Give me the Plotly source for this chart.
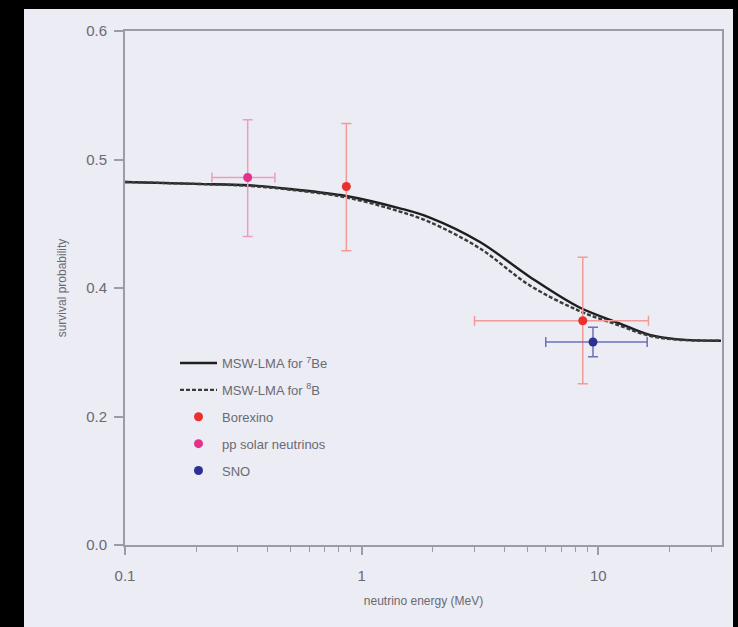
import plotly.graph_objects as go

# ---------------- data ----------------
curve_energy = [0.1, 0.2, 0.33, 0.5, 0.86, 1.45, 1.93, 3.15, 5.14, 8.3, 12.2, 16.5, 21.8, 33]
p_be7 = [0.4825, 0.481, 0.480, 0.477, 0.4716, 0.462, 0.455, 0.436, 0.4086, 0.370, 0.3455, 0.327, 0.320, 0.318]
p_b8 = [0.4825, 0.481, 0.4795, 0.4765, 0.4705, 0.4595, 0.4515, 0.431, 0.402, 0.3645, 0.342, 0.3255, 0.3195, 0.318]

borexino_E = [0.862, 8.6]
borexino_P = [0.479, 0.349]
borexino_up = [0.528, 0.424]
borexino_lo = [0.429, 0.251]
borexino_Elo = [0.862, 3.0]
borexino_Ehi = [0.862, 16.3]

pp_E = [0.33]
pp_P = [0.486]
pp_up = [0.531]
pp_lo = [0.440]
pp_Elo = [0.233]
pp_Ehi = [0.43]

sno_E = [9.5]
sno_P = [0.316]
sno_up = [0.339]
sno_lo = [0.293]
sno_Elo = [6.0]
sno_Ehi = [16.1]

y_tick_vals = [0.0, 0.2, 0.4, 0.5, 0.6]
y_tick_text = ["0.0", "0.2", "0.4", "0.5", "0.6"]
x_tick_vals = [0.1, 1, 10]
x_tick_text = ["0.1", "1", "10"]
x_minor_vals = [0.2, 0.3, 0.4, 0.5, 0.6, 0.7, 0.8, 0.9, 2, 3, 4, 5, 6, 7, 8, 9, 20, 30]


# the original y axis is piecewise: 0-0.4 compressed (0.2 per segment), 0.4-0.6 at 0.1 per segment
def ymap(v):
    if v <= 0.4:
        return v / 0.2
    return 2 + (v - 0.4) / 0.1


def ymapl(vals):
    return [ymap(v) for v in vals]


def yerr(center, up, lo):
    return ([ymap(u) - ymap(c) for c, u in zip(center, up)],
            [ymap(c) - ymap(l) for c, l in zip(center, lo)])


def xerr(E, Elo, Ehi):
    return ([h - e for e, h in zip(E, Ehi)], [e - l for e, l in zip(E, Elo)])


FONT = "Liberation Sans Narrow, Arial Narrow, Liberation Sans, sans-serif"
TXT = "#6a6a72"
AX = "#9c9ca6"
BG = "#ececf4"

fig = go.Figure()

fig.add_trace(go.Scatter(
    x=curve_energy, y=ymapl(p_be7), mode="lines", line=dict(color="#1e1e1e", width=2.4, shape="spline"),
    name="MSW-LMA for <sup>7</sup>Be", legendgroup="a"))
fig.add_trace(go.Scatter(
    x=curve_energy, y=ymapl(p_b8), mode="lines", line=dict(color="#3a3a3a", width=2.4, dash="4px,2px", shape="spline"),
    name="MSW-LMA for <sup>8</sup>B", legendgroup="b"))

for name, E, P, up, lo, Elo, Ehi, mc, ec, grp in [
    ("Borexino", borexino_E, borexino_P, borexino_up, borexino_lo, borexino_Elo, borexino_Ehi, "#e8302c", "#f29a98", "c"),
    ("pp solar neutrinos", pp_E, pp_P, pp_up, pp_lo, pp_Elo, pp_Ehi, "#e2338c", "#ee9cc4", "d"),
    ("SNO", sno_E, sno_P, sno_up, sno_lo, sno_Elo, sno_Ehi, "#2b3192", "#6c72b4", "e"),
]:
    ey_up, ey_lo = yerr(P, up, lo)
    ex_up, ex_lo = xerr(E, Elo, Ehi)
    fig.add_trace(go.Scatter(
        x=E, y=ymapl(P), mode="markers", name=name, legendgroup=grp,
        marker=dict(color=mc, size=9),
        error_y=dict(type="data", symmetric=False, array=ey_up, arrayminus=ey_lo,
                     color=ec, thickness=1.5, width=5),
        error_x=dict(type="data", symmetric=False, array=ex_up, arrayminus=ex_lo,
                     color=ec, thickness=1.5, width=5),
    ))

# lavender panel inside the black frame
fig.add_shape(type="rect", xref="paper", yref="paper",
              x0=(24 - 125) / 597, x1=(733 - 125) / 597,
              y0=(545 - 640) / 514, y1=(545 - 9) / 514,
              fillcolor=BG, line=dict(width=0), layer="below")

fig.update_layout(
    width=738, height=627,
    margin=dict(l=125, r=16, t=31, b=82),
    paper_bgcolor="black", plot_bgcolor=BG,
    font=dict(family=FONT, color=TXT, size=13),
    showlegend=True,
    legend=dict(x=(175 - 125) / 597, y=(545 - 348) / 514, xanchor="left", yanchor="top",
                bgcolor="rgba(0,0,0,0)", font=dict(family=FONT, size=13, color=TXT),
                tracegroupgap=7, traceorder="grouped", itemwidth=37),
    xaxis=dict(type="log", range=[-1, 1.523], tickvals=x_tick_vals, ticktext=x_tick_text,
               ticks="outside", ticklen=8, tickcolor=AX, tickwidth=1.5,
               showline=True, linecolor=AX, linewidth=2, mirror=True, showgrid=False, zeroline=False,
               tickfont=dict(size=15, color=TXT), ticklabelstandoff=8,
               minor=dict(tickvals=x_minor_vals, ticks="outside", ticklen=5, tickcolor=AX, tickwidth=1.2, showgrid=False),
               title=dict(text="neutrino energy (MeV)", font=dict(size=12, color=TXT), standoff=14)),
    yaxis=dict(range=[0, 4], tickvals=ymapl(y_tick_vals), ticktext=y_tick_text,
               ticks="outside", ticklen=9, tickcolor=AX, tickwidth=1.5,
               showline=True, linecolor=AX, linewidth=2, mirror=True, showgrid=False, zeroline=False,
               tickfont=dict(size=15, color=TXT), ticklabelstandoff=4,
               title=dict(text="survival probability", font=dict(size=12, color=TXT), standoff=17)),
)

fig.write_html("out.html")
